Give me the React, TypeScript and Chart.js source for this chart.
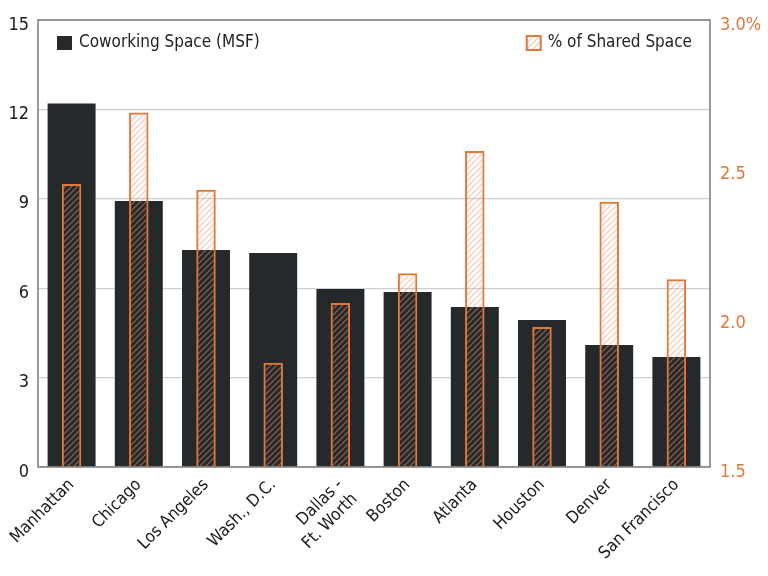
import React, { useEffect, useRef } from "react";
import { Chart, registerables } from "chart.js";

Chart.register(...registerables);

const categories: (string | string[])[] = [
  "Manhattan",
  "Chicago",
  "Los Angeles",
  "Wash., D.C.",
  ["Dallas -", "Ft. Worth"],
  "Boston",
  "Atlanta",
  "Houston",
  "Denver",
  "San Francisco",
];
const coworkingMSF = [12.2, 8.93, 7.28, 7.18, 5.97, 5.87, 5.37, 4.93, 4.09, 3.69];
const sharedPct = [2.45, 2.69, 2.43, 1.85, 2.05, 2.15, 2.56, 1.97, 2.39, 2.13];
const leftTicks = [0, 3, 6, 9, 12, 15];
const rightTicks = [1.5, 2.0, 2.5, 3.0];

const FONT = "'DejaVu Sans Condensed', 'Liberation Sans', sans-serif";
const DARK = "#26292c";
const ORANGE = "#e0783c";

function makeHatch(): CanvasPattern | string {
  const c = document.createElement("canvas");
  c.width = 6;
  c.height = 6;
  const g = c.getContext("2d");
  if (!g) return "rgba(240,170,140,0.3)";
  g.strokeStyle = "rgba(235,150,110,0.45)";
  g.lineWidth = 1.4;
  g.beginPath();
  g.moveTo(0, 6);
  g.lineTo(6, 0);
  g.moveTo(-3, 3);
  g.lineTo(3, -3);
  g.moveTo(3, 9);
  g.lineTo(9, 3);
  g.stroke();
  return g.createPattern(c, "repeat") as CanvasPattern;
}

export default function App() {
  const ref = useRef<HTMLCanvasElement>(null);
  useEffect(() => {
    document.body.style.margin = "0";
    const canvas = ref.current;
    if (!canvas) return;
    const hatch = makeHatch();

    const boxPlugin = {
      id: "boxAndLegend",
      afterDatasetsDraw(chart: any) {
        const { ctx, chartArea } = chart;
        ctx.save();
        ctx.strokeStyle = "#7d7d7d";
        ctx.lineWidth = 1.5;
        ctx.strokeRect(chartArea.left, chartArea.top, chartArea.right - chartArea.left, chartArea.bottom - chartArea.top);
        ctx.restore();
      },
      afterDraw(chart: any) {
        const { ctx, chartArea } = chart;
        const ds = chart.data.datasets;
        ctx.save();
        ctx.font = `17px ${FONT}`;
        ctx.textBaseline = "middle";
        // left legend item (coworking)
        const lx = chartArea.left + 19;
        const ly = chartArea.top + 16;
        ctx.fillStyle = DARK;
        ctx.fillRect(lx, ly, 15, 14);
        ctx.fillStyle = "#222";
        ctx.textAlign = "left";
        ctx.fillText(ds[1].label, lx + 22, ly + 7);
        // right legend item (shared)
        const label2 = ds[0].label;
        const w2 = ctx.measureText(label2).width;
        const tx = chartArea.right - 18 - w2;
        const bx = tx - 21;
        const by = chartArea.top + 16;
        ctx.fillStyle = "#fff";
        ctx.fillRect(bx, by, 14, 14);
        ctx.fillStyle = hatch as any;
        ctx.fillRect(bx, by, 14, 14);
        ctx.strokeStyle = ORANGE;
        ctx.lineWidth = 2;
        ctx.strokeRect(bx, by, 14, 14);
        ctx.fillStyle = "#222";
        ctx.fillText(label2, tx, by + 7);
        ctx.restore();
      },
    };

    const chart = new Chart(canvas, {
      type: "bar",
      data: {
        labels: categories,
        datasets: [
          {
            label: "% of Shared Space",
            data: sharedPct,
            yAxisID: "y2",
            backgroundColor: hatch as any,
            borderColor: ORANGE,
            borderWidth: 2,
            borderSkipped: false,
            grouped: false,
            barPercentage: 0.29,
            categoryPercentage: 1,
            order: 0,
          },
          {
            label: "Coworking Space (MSF)",
            data: coworkingMSF,
            yAxisID: "y",
            backgroundColor: DARK,
            borderWidth: 0,
            grouped: false,
            barPercentage: 0.714,
            categoryPercentage: 1,
            order: 1,
          },
        ],
      },
      options: {
        animation: false,
        responsive: true,
        maintainAspectRatio: false,
        layout: { padding: { top: 20, left: 0, right: 0, bottom: 0 } },
        plugins: {
          legend: { display: false },
          tooltip: { enabled: false },
        },
        scales: {
          x: {
            grid: { display: false, drawTicks: false },
            border: { display: false },
            ticks: {
              font: { family: FONT, size: 17 },
              color: "#1a1a1a",
              maxRotation: 45,
              minRotation: 45,
              padding: 8,
              autoSkip: false,
            },
            afterFit(scale: any) {
              scale.height = 109;
              scale.paddingLeft = 0;
              scale.paddingRight = 0;
            },
          },
          y: {
            position: "left",
            min: 0,
            max: 15,
            afterBuildTicks(scale: any) {
              scale.ticks = leftTicks.map((v) => ({ value: v }));
            },
            grid: {
              color: "#cfcfcf",
              lineWidth: 1.2,
              drawTicks: false,
            },
            border: { display: false },
            ticks: {
              font: { family: FONT, size: 18 },
              color: "#1a1a1a",
              padding: 9,
              labelOffset: 5,
              callback: (v: any) => String(v),
            },
            afterFit(scale: any) {
              scale.width = 38;
              scale.paddingTop = 0;
              scale.paddingBottom = 0;
            },
          },
          y2: {
            position: "right",
            min: 1.5,
            max: 3.0,
            afterBuildTicks(scale: any) {
              scale.ticks = rightTicks.map((v) => ({ value: v }));
            },
            grid: { display: false, drawTicks: false },
            border: { display: false },
            ticks: {
              font: { family: FONT, size: 18 },
              color: ORANGE,
              padding: 10,
              labelOffset: 5,
              callback: (v: any) => (Number(v) === 3 ? "3.0%" : Number(v).toFixed(1)),
            },
            afterFit(scale: any) {
              scale.width = 58;
              scale.paddingTop = 0;
              scale.paddingBottom = 0;
            },
          },
        },
      },
      plugins: [boxPlugin],
    });
    return () => chart.destroy();
  }, []);

  return (
    <div style={{ position: "absolute", left: 0, top: 0, width: 768, height: 576, background: "#fff" }}>
      <canvas ref={ref} />
    </div>
  );
}
